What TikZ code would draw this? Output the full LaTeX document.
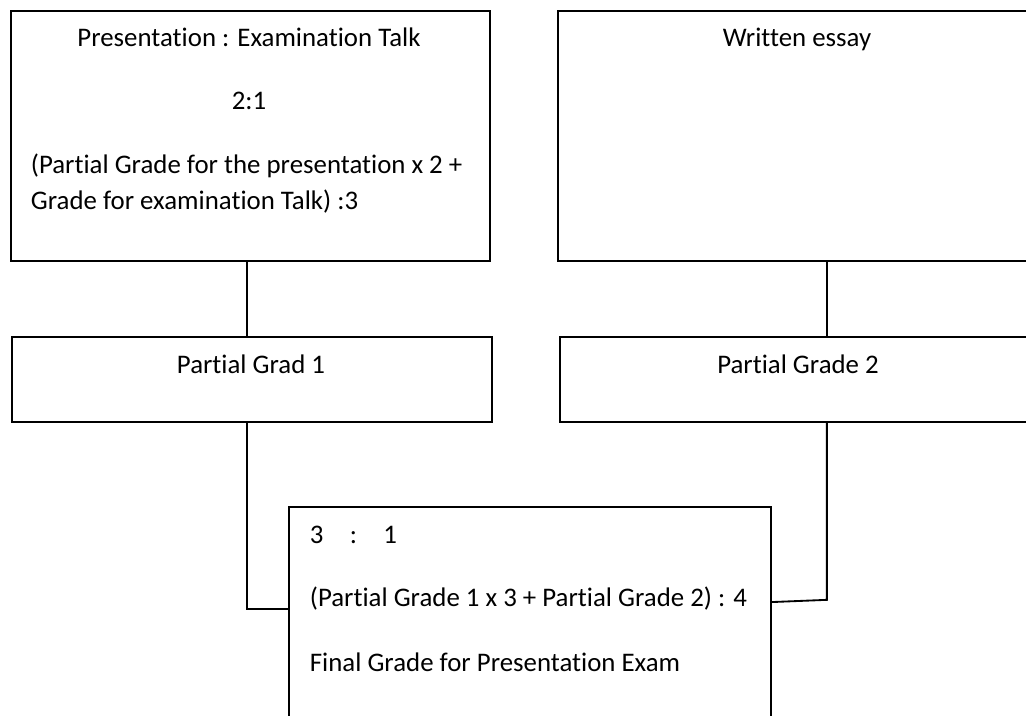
\documentclass[tikz,border=0pt]{standalone}
\usepackage{fontspec}
\setmainfont{Carlito}[Ligatures=NoCommon]
\usetikzlibrary{positioning}

\begin{document}
\begin{tikzpicture}[x=0.38pt, y=-0.38pt, line width=0.7pt,
    gradebox/.style={draw, rectangle, anchor=north west, inner sep=0pt},
    boxtext/.style={font=\fontsize{10.2}{12}\selectfont, inner sep=0pt},
    linetext/.style={boxtext, anchor=west}]
  \useasboundingbox (0,0) rectangle (1026,715);
  % boxes
  \node[gradebox, minimum width=182pt, minimum height=95pt] (pres) at (10,10) {};
  \node[gradebox, minimum width=182.4pt, minimum height=95pt] (essay) at (557,10) {};
  \node[gradebox, minimum width=182.4pt, minimum height=32.3pt] (pg1) at (11,336) {};
  \node[gradebox, minimum width=182.4pt, minimum height=32.3pt] (pg2) at (559,336) {};
  \node[gradebox, minimum width=183.2pt, minimum height=90pt] (final) at (288,506) {};
  % texts
  \node[boxtext] (presTitle) at (249,37) {Presentation : Examination Talk};
  \node[boxtext] (presRatio) at (249,101) {2:1};
  \node[linetext] (presCalcA) at (30,166) {(Partial Grade for the presentation x 2 +};
  \node[linetext] (presCalcB) at (30,202) {Grade for examination Talk) :3};
  \node[boxtext] (essayTitle) at (797,39) {Written essay};
  \node[boxtext] (pg1Title) at (251,364) {Partial Grad 1};
  \node[boxtext] (pg2Title) at (798,364) {Partial Grade 2};
  \node[linetext] (finalRatio) at (309,535) {3\hspace{10pt}:\hspace{10pt}1};
  \node[linetext] (finalCalc) at (309,599) {(Partial Grade 1 x 3 + Partial Grade 2) : 4};
  \node[linetext] (finalTitle) at (309,662) {Final Grade for Presentation Exam};
  % connectors
  \coordinate (finalL) at ([yshift=-39pt]final.north west);
  \coordinate (finalR) at ([yshift=-36.5pt]final.north east);
  \draw ([xshift=-1.3pt]pres.south) -- ([xshift=-1.3pt]pres.south |- pg1.north);
  \draw ([xshift=11pt]essay.south) -- ([xshift=11pt]essay.south |- pg2.north);
  \draw ([xshift=-1.3pt]pres.south |- pg1.south) |- (finalL);
  \draw ([xshift=11pt]essay.south |- pg2.south) -- ++(0,177) -- (finalR);
\end{tikzpicture}
\end{document}
